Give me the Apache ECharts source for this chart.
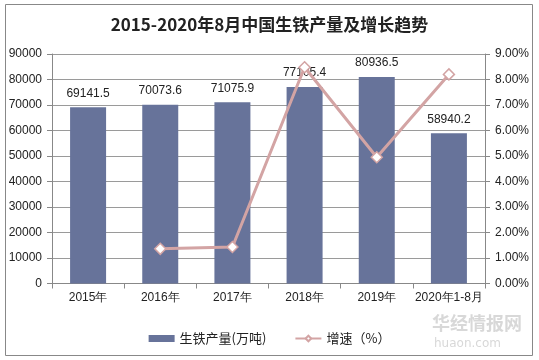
<!DOCTYPE html>
<html><head><meta charset="utf-8">
<script src="https://cdn.jsdelivr.net/npm/echarts@6/dist/echarts.min.js"></script>
<style>html,body{margin:0;padding:0;background:#fff}#c{width:539px;height:360px}</style>
</head><body><div id="c"></div>
<script>
const categories = ['2015年','2016年','2017年','2018年','2019年','2020年1-8月'];
const output = [69141.5, 70073.6, 71075.9, 77105.4, 80936.5, 58940.2];
const growth = [null, 1.36, 1.43, 8.48, 4.95, 8.2];
const leftTicks = [0, 90000, 10000];
const rightTicks = [0, 9, 1];

const chart = echarts.init(document.getElementById('c'));
chart.setOption({
  animation: false,
  backgroundColor: '#fff',
  title: {
    text: '2015-2020年8月中国生铁产量及增长趋势',
    left: 'center', top: 11,
    textStyle: {fontFamily: 'Noto Sans CJK SC', fontSize: 17, fontWeight: 'bold', color: '#222'}
  },
  graphic: [
    {type: 'rect', shape: {x: 5.5, y: 4.5, width: 527, height: 351}, style: {fill: null, stroke: '#888', lineWidth: 1}, silent: true, z: -1},
    {type: 'text', left: 432, top: 314, style: {text: '华经情报网', fill: '#d8d8d8', font: 'bold 18px "Noto Sans CJK SC"'}},
    {type: 'text', left: 434, top: 338, style: {text: 'huaon.com', fill: '#d8d8d8', font: '12px "DejaVu Sans"'}}
  ],
  legend: {
    bottom: 10, left: 'center',
    itemGap: 28,
    textStyle: {fontFamily: 'Noto Sans CJK SC', fontSize: 13, color: '#222'},
    data: [
      {name: '生铁产量(万吨)', icon: 'rect', itemStyle: {color: '#67739A'}},
      {name: '增速（%）'}
    ],
    itemWidth: 26, itemHeight: 7
  },
  grid: {left: 52, right: 54, top: 54, bottom: 76.5},
  xAxis: {
    type: 'category', data: categories,
    axisLine: {lineStyle: {color: '#888'}},
    axisTick: {show: true, alignWithLabel: false, length: 5, lineStyle: {color: '#888'}},
    axisLabel: {interval: 0, color: '#222', fontSize: 12, fontFamily: 'Liberation Sans', margin: 8}
  },
  yAxis: [
    {
      type: 'value', min: leftTicks[0], max: leftTicks[1], interval: leftTicks[2],
      axisLine: {show: true, lineStyle: {color: '#888'}},
      axisTick: {show: true, length: 5, lineStyle: {color: '#888'}},
      axisLabel: {color: '#222', fontSize: 12, fontFamily: 'Liberation Sans', margin: 10,
        formatter: v => String(v)},
      splitLine: {lineStyle: {color: '#9a9a9a'}}
    },
    {
      type: 'value', min: rightTicks[0], max: rightTicks[1], interval: rightTicks[2],
      axisLine: {show: true, lineStyle: {color: '#888'}},
      axisTick: {show: true, length: 5, lineStyle: {color: '#888'}},
      axisLabel: {color: '#222', fontSize: 12, fontFamily: 'Liberation Sans', margin: 10,
        formatter: v => v.toFixed(2) + '%'},
      splitLine: {show: false}
    }
  ],
  series: [
    {
      name: '生铁产量(万吨)', type: 'bar', data: output, barWidth: 36,
      itemStyle: {color: '#67739A'},
      label: {show: true, position: 'top', distance: 8, color: '#222', fontSize: 12, fontFamily: 'Liberation Sans',
        formatter: p => p.value.toFixed(1)}
    },
    {
      name: '增速（%）', type: 'line', yAxisIndex: 1, data: growth,
      symbol: 'diamond', symbolSize: 11, showAllSymbol: true,
      lineStyle: {color: '#D3A4A4', width: 3},
      itemStyle: {color: '#fff', borderColor: '#D3A4A4', borderWidth: 1.5},
      z: 5
    }
  ]
});
</script></body></html>
